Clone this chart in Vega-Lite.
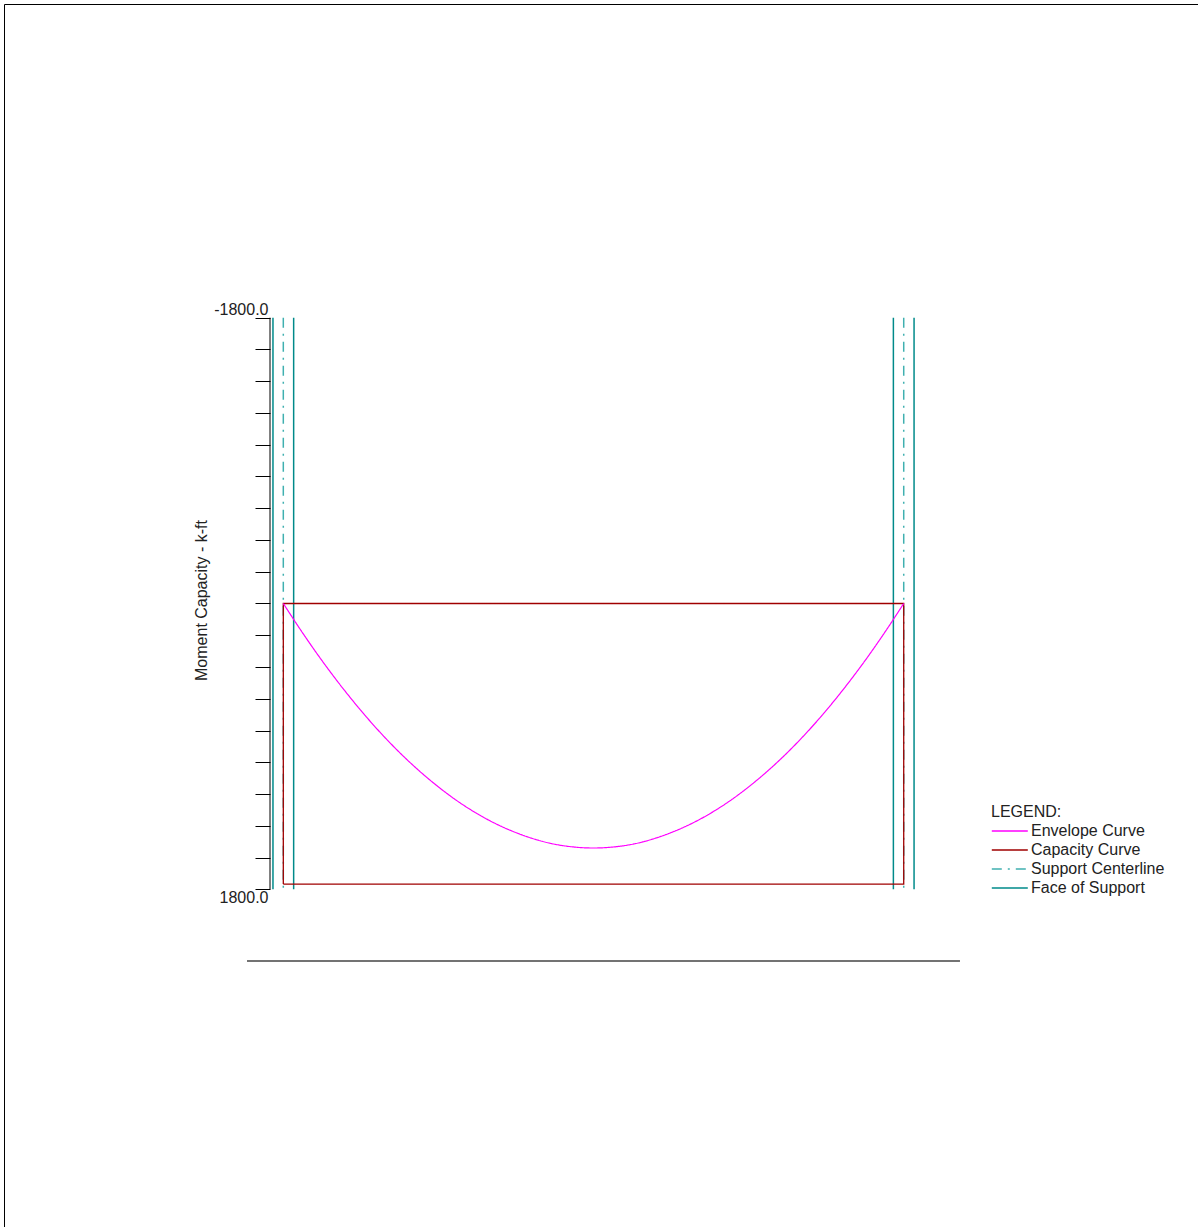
{
  "$schema": "https://vega.github.io/schema/vega-lite/v6.json",
  "width": 1200,
  "height": 1223,
  "autosize": {"type": "none"},
  "padding": {"left": 4, "top": 4, "right": 0, "bottom": 0},
  "background": "white",
  "config": {
    "view": {"stroke": "black", "strokeWidth": 1},
    "font": "Liberation Sans"
  },
  "datasets": {
    "supports": [
      {"series": "Face of Support", "x": -0.5, "y": -1800, "y2": 1800},
      {"series": "Face of Support", "x": 0.5, "y": -1800, "y2": 1800},
      {"series": "Face of Support", "x": 29.5, "y": -1800, "y2": 1800},
      {"series": "Face of Support", "x": 30.5, "y": -1800, "y2": 1800},
      {"series": "Support Centerline", "x": 0, "y": -1800, "y2": 1800},
      {"series": "Support Centerline", "x": 30, "y": -1800, "y2": 1800}
    ],
    "capacity": [
      {"series": "Capacity Curve", "x": 0, "y": 1767, "ord": 1},
      {"series": "Capacity Curve", "x": 0, "y": 0, "ord": 2},
      {"series": "Capacity Curve", "x": 30, "y": 0, "ord": 3},
      {"series": "Capacity Curve", "x": 30, "y": 1767, "ord": 4},
      {"series": "Capacity Curve", "x": 0, "y": 1767, "ord": 5}
    ],
    "envelope": [
      {"series": "Envelope Curve", "x": 0, "y": 0},
      {"series": "Envelope Curve", "x": 1, "y": 198},
      {"series": "Envelope Curve", "x": 2, "y": 383},
      {"series": "Envelope Curve", "x": 3, "y": 554},
      {"series": "Envelope Curve", "x": 4, "y": 712},
      {"series": "Envelope Curve", "x": 5, "y": 856},
      {"series": "Envelope Curve", "x": 6, "y": 986},
      {"series": "Envelope Curve", "x": 7, "y": 1102},
      {"series": "Envelope Curve", "x": 8, "y": 1205},
      {"series": "Envelope Curve", "x": 9, "y": 1294},
      {"series": "Envelope Curve", "x": 10, "y": 1369},
      {"series": "Envelope Curve", "x": 11, "y": 1430},
      {"series": "Envelope Curve", "x": 12, "y": 1478},
      {"series": "Envelope Curve", "x": 13, "y": 1513},
      {"series": "Envelope Curve", "x": 14, "y": 1533},
      {"series": "Envelope Curve", "x": 15, "y": 1540},
      {"series": "Envelope Curve", "x": 16, "y": 1533},
      {"series": "Envelope Curve", "x": 17, "y": 1513},
      {"series": "Envelope Curve", "x": 18, "y": 1478},
      {"series": "Envelope Curve", "x": 19, "y": 1430},
      {"series": "Envelope Curve", "x": 20, "y": 1369},
      {"series": "Envelope Curve", "x": 21, "y": 1294},
      {"series": "Envelope Curve", "x": 22, "y": 1205},
      {"series": "Envelope Curve", "x": 23, "y": 1102},
      {"series": "Envelope Curve", "x": 24, "y": 986},
      {"series": "Envelope Curve", "x": 25, "y": 856},
      {"series": "Envelope Curve", "x": 26, "y": 712},
      {"series": "Envelope Curve", "x": 27, "y": 554},
      {"series": "Envelope Curve", "x": 28, "y": 383},
      {"series": "Envelope Curve", "x": 29, "y": 198},
      {"series": "Envelope Curve", "x": 30, "y": 0}
    ],
    "baseline": [
      {"x": -1.755, "x2": 32.72, "y": 2252}
    ],
    "yaxisline": [
      {"x": -0.643, "y": -1800, "y2": 1800}
    ]
  },
  "encoding": {
    "x": {
      "field": "x", "type": "quantitative",
      "scale": {"domain": [-13.506, 44.52], "nice": false, "zero": false},
      "axis": null
    },
    "y": {
      "field": "y", "type": "quantitative",
      "scale": {"domain": [-3775.7, 3926.9], "nice": false, "zero": false, "reverse": true},
      "axis": {
        "offset": -266,
        "values": [-1800, -1600, -1400, -1200, -1000, -800, -600, -400, -200, 0, 200, 400, 600, 800, 1000, 1200, 1400, 1600, 1800],
        "grid": false,
        "domain": false,
        "tickColor": "black",
        "tickWidth": 1,
        "tickSize": 15,
        "labelExpr": "datum.value == -1800 ? '-1800.0' : (datum.value == 1800 ? '1800.0' : '')",
        "labelFont": "Liberation Sans",
        "labelFontSize": 16,
        "labelColor": "#222222",
        "labelPadding": -13,
        "labelFlush": false,
        "labelOverlap": false,
        "labelBaseline": {"condition": {"test": "datum.value < 0", "value": "bottom"}, "value": "top"},
        "title": "Moment Capacity - k-ft",
        "titleFont": "Liberation Sans",
        "titleFontSize": 16,
        "titleFontWeight": "normal",
        "titleColor": "#222222",
        "titleAngle": 270,
        "titleAlign": "center",
        "titleBaseline": "middle",
        "titleX": -69,
        "titleY": 596
      }
    }
  },
  "layer": [
    {
      "data": {"name": "yaxisline"},
      "mark": {"type": "rule", "color": "black", "strokeWidth": 1},
      "encoding": {
        "y2": {"field": "y2"}
      }
    },
    {
      "data": {"name": "supports"},
      "mark": {"type": "rule", "strokeWidth": 1.5},
      "encoding": {
        "y2": {"field": "y2"},
        "color": {
          "field": "series", "type": "nominal",
          "scale": {
            "domain": ["Envelope Curve", "Capacity Curve", "Support Centerline", "Face of Support"],
            "range": ["#ff00ff", "#a00000", "#40b0b0", "#008a8a"]
          },
          "legend": {
            "title": "LEGEND:",
            "orient": "none",
            "legendX": 987,
            "legendY": 800,
            "padding": 0,
            "symbolType": "M-1.2,0H4.8",
            "symbolSize": 144,
            "symbolStrokeWidth": 1.5,
            "labelFont": "Liberation Sans",
            "labelFontSize": 16,
            "labelColor": "#222222",
            "labelOffset": 24,
            "titleFont": "Liberation Sans",
            "titleFontSize": 16,
            "titleFontWeight": "normal",
            "titleColor": "#222222",
            "titlePadding": 3,
            "rowPadding": 3
          }
        },
        "strokeDash": {
          "field": "series", "type": "nominal",
          "scale": {
            "domain": ["Envelope Curve", "Capacity Curve", "Support Centerline", "Face of Support"],
            "range": [[1, 0], [1, 0], [10, 6, 2, 6], [1, 0]]
          },
          "legend": {"title": "LEGEND:"}
        }
      }
    },
    {
      "data": {"name": "capacity"},
      "mark": {"type": "line", "strokeWidth": 1.3},
      "encoding": {
        "order": {"field": "ord", "type": "quantitative"},
        "color": {"field": "series", "type": "nominal"},
        "strokeDash": {"field": "series", "type": "nominal"}
      }
    },
    {
      "data": {"name": "envelope"},
      "mark": {"type": "line", "strokeWidth": 1.2, "interpolate": "monotone"},
      "encoding": {
        "color": {"field": "series", "type": "nominal"},
        "strokeDash": {"field": "series", "type": "nominal"}
      }
    },
    {
      "data": {"name": "baseline"},
      "mark": {"type": "rule", "color": "#444444", "strokeWidth": 1.5},
      "encoding": {
        "x2": {"field": "x2"}
      }
    }
  ]
}
